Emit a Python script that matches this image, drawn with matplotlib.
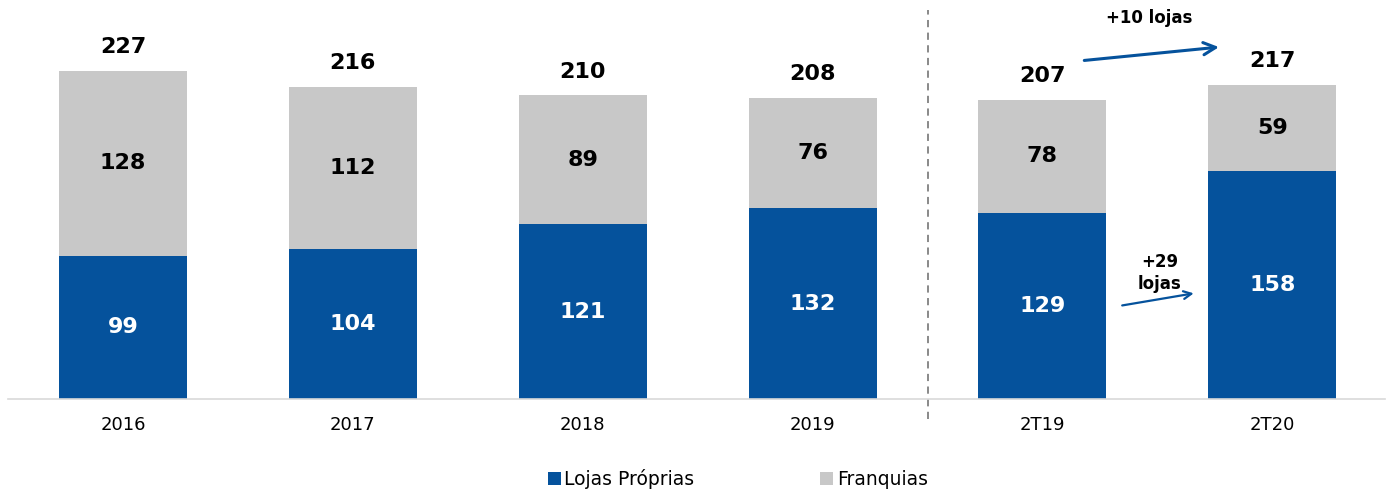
import numpy as np
import matplotlib
matplotlib.use("Agg")
import matplotlib.pyplot as plt

categories = ["2016", "2017", "2018", "2019", "2T19", "2T20"]
proprias = [99, 104, 121, 132, 129, 158]
franquias = [128, 112, 89, 76, 78, 59]
totais = [227, 216, 210, 208, 207, 217]

blue = "#05529c"
gray = "#c8c8c8"

plt.rcParams['font.family'] = ['DejaVu Sans']

fig = plt.figure(figsize=(13.92, 4.9), dpi=100)
ax = fig.add_axes([0.00575, 0.1857, 0.9892, 0.8143])

x = np.arange(len(categories))
w = 0.557
ax.bar(x, proprias, w, color=blue, label="Lojas Próprias")
ax.bar(x, franquias, w, bottom=proprias, color=gray, label="Franquias")

for i in range(len(x)):
    ax.text(x[i], proprias[i] / 2, str(proprias[i]), ha="center", va="center",
            color="white", fontsize=16, fontweight="bold")
    ax.text(x[i], proprias[i] + franquias[i] / 2, str(franquias[i]), ha="center",
            va="center", color="black", fontsize=16, fontweight="bold")
    ax.text(x[i], totais[i] + 16.5, str(totais[i]), ha="center", va="center",
            color="black", fontsize=16, fontweight="bold")

ax.set_xlim(-0.5, 5.49)
ax.set_ylim(0, 276)
ax.set_xticks(x)
ax.set_xticklabels(categories, fontsize=13)
ax.tick_params(axis="x", length=0, pad=12)
ax.set_yticks([])
for s in ["top", "right", "left"]:
    ax.spines[s].set_visible(False)
ax.spines["bottom"].set_color("#d9d9d9")
ax.spines["bottom"].set_linewidth(1.2)

# divisor entre anos e trimestres
ax.plot([3.5, 3.5], [-14, 269], ls=(0, (4, 3)), color="#808080", lw=1.3,
        clip_on=False)

# setas de crescimento
ax.annotate("", xy=(4.78, 243.6), xytext=(4.17, 234),
            arrowprops=dict(arrowstyle="->", color=blue, lw=2.2,
                            mutation_scale=22))
ax.text(4.465, 263.7, "+10 lojas", ha="center", va="center", fontsize=12,
        fontweight="bold")
ax.annotate("", xy=(4.67, 73.4), xytext=(4.335, 64.4),
            arrowprops=dict(arrowstyle="->", color=blue, lw=1.6,
                            mutation_scale=14))
ax.text(4.51, 87, "+29\nlojas", ha="center", va="center", fontsize=12,
        fontweight="bold", linespacing=1.3)

leg = fig.legend(loc="lower center", bbox_to_anchor=(0.530, -0.033), ncol=2,
                 frameon=False, fontsize=13.5, handlelength=0.7,
                 handleheight=0.7, handletextpad=0.2, columnspacing=6.7)

fig.savefig("out.png", dpi=100)
